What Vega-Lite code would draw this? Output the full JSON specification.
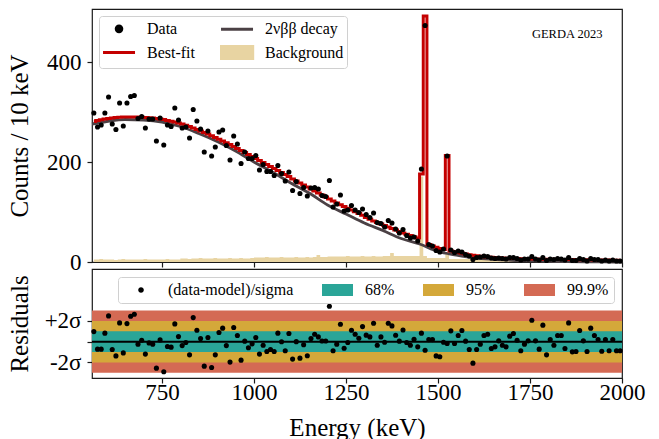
{
  "$schema": "https://vega.github.io/schema/vega-lite/v6.json",
  "padding": {"left": 6, "top": 8, "right": 5, "bottom": 0},
  "spacing": 7,
  "bounds": "flush",
  "config": {
    "font": "Liberation Serif",
    "view": {"stroke": "#1a1a1a", "strokeWidth": 1.2},
    "axis": {"domain": false, "grid": false, "ticks": true, "tickColor": "#1a1a1a", "tickSize": 5, "tickWidth": 1.2, "labelFontSize": 23, "labelColor": "#000000", "labelFont": "Liberation Serif", "titleFont": "Liberation Serif", "titleFontSize": 25, "titleFontWeight": "normal", "titleColor": "#000000", "labelPadding": 6},
    "legend": {"labelFont": "Liberation Serif", "labelFontSize": 16, "labelColor": "#000000", "fillColor": "#ffffff", "strokeColor": "#d0d0d0", "cornerRadius": 3}
  },
  "resolve": {"scale": {"color": "independent", "x": "independent", "y": "independent"}, "legend": {"color": "independent"}},
  "datasets": {
    "bins": [
      {"E":565,"d":298,"m":281,"b":5,"r":0.97},{"E":575,"d":270,"m":283,"b":5,"r":-0.72},{"E":585,"d":274,"m":284.5,"b":6,"r":-0.72},{"E":595,"d":298,"m":286,"b":5,"r":0.82},{"E":605,"d":330,"m":287,"b":5,"r":2.48},{"E":615,"d":276,"m":288,"b":5,"r":-0.75},{"E":625,"d":265,"m":289,"b":4,"r":-1.37},{"E":635,"d":318,"m":289.5,"b":5,"r":1.81},{"E":645,"d":272,"m":290,"b":6,"r":-1.08},{"E":655,"d":318,"m":290,"b":5,"r":1.74},
      {"E":665,"d":331,"m":290,"b":5,"r":2.45},{"E":675,"d":333,"m":290,"b":5,"r":2.64},{"E":685,"d":287,"m":290,"b":5,"r":-0.24},{"E":695,"d":291,"m":289.5,"b":5,"r":0.14},{"E":705,"d":268,"m":289,"b":6,"r":-1.2},{"E":715,"d":286,"m":288.5,"b":5,"r":-0.12},{"E":725,"d":286,"m":288,"b":5,"r":-0.24},{"E":735,"d":242,"m":287,"b":5,"r":-2.55},{"E":745,"d":288,"m":286,"b":5,"r":0.17},{"E":755,"d":234,"m":285,"b":5,"r":-2.9},
      {"E":765,"d":274,"m":283,"b":6,"r":-0.47},{"E":775,"d":271,"m":281.5,"b":5,"r":-0.53},{"E":785,"d":308,"m":280,"b":5,"r":1.71},{"E":795,"d":284,"m":278,"b":5,"r":0.49},{"E":805,"d":268,"m":276,"b":7,"r":-0.38},{"E":815,"d":270,"m":273.5,"b":7,"r":-0.08},{"E":825,"d":248,"m":271,"b":6,"r":-1.27},{"E":835,"d":305,"m":268,"b":7,"r":2.32},{"E":845,"d":282,"m":265,"b":7,"r":1.1},{"E":855,"d":266,"m":262,"b":8,"r":0.3},
      {"E":865,"d":220,"m":259,"b":7,"r":-2.36},{"E":875,"d":262,"m":256,"b":7,"r":0.4},{"E":885,"d":212,"m":252.5,"b":7,"r":-2.49},{"E":895,"d":230,"m":249,"b":8,"r":-1.27},{"E":905,"d":260,"m":245.5,"b":7,"r":0.88},{"E":915,"d":264,"m":242,"b":7,"r":1.3},{"E":925,"d":233,"m":238.5,"b":7,"r":-0.38},{"E":935,"d":204,"m":235,"b":8,"r":-1.97},{"E":945,"d":252,"m":231,"b":7,"r":1.36},{"E":955,"d":236,"m":227,"b":7,"r":0.59},
      {"E":965,"d":197,"m":223,"b":8,"r":-1.78},{"E":975,"d":220,"m":219,"b":7,"r":0.05},{"E":985,"d":207,"m":215,"b":7,"r":-0.59},{"E":995,"d":207,"m":211,"b":8,"r":-0.21},{"E":1005,"d":213,"m":207,"b":9,"r":0.4},{"E":1015,"d":184,"m":203,"b":9,"r":-1.2},{"E":1025,"d":195,"m":199,"b":9,"r":-0.34},{"E":1035,"d":181,"m":195,"b":10,"r":-0.95},{"E":1045,"d":181,"m":191,"b":9,"r":-0.75},{"E":1055,"d":173,"m":187,"b":9,"r":-0.95},
      {"E":1065,"d":193,"m":183,"b":9,"r":0.82},{"E":1075,"d":177,"m":179,"b":10,"r":-0.01},{"E":1085,"d":162,"m":175,"b":9,"r":-0.88},{"E":1095,"d":180,"m":171,"b":9,"r":0.79},{"E":1105,"d":143,"m":166,"b":9,"r":-1.68},{"E":1115,"d":161,"m":162,"b":10,"r":0},{"E":1125,"d":137,"m":158,"b":9,"r":-1.59},{"E":1135,"d":149,"m":154,"b":9,"r":-0.3},{"E":1145,"d":132,"m":150,"b":10,"r":-1.36},{"E":1155,"d":148,"m":146,"b":9,"r":0.3},
      {"E":1165,"d":149,"m":142,"b":10,"r":0.72},{"E":1175,"d":146,"m":138,"b":14,"r":0.46},{"E":1185,"d":133,"m":134,"b":10,"r":0.07},{"E":1195,"d":131,"m":130,"b":10,"r":0.07},{"E":1205,"d":163,"m":126,"b":11,"r":3.41},{"E":1215,"d":110,"m":122,"b":11,"r":-0.88},{"E":1225,"d":116,"m":118,"b":11,"r":-0.24},{"E":1235,"d":134,"m":114.5,"b":11,"r":1.68},{"E":1245,"d":102,"m":111,"b":11,"r":-0.63},{"E":1255,"d":104,"m":107.5,"b":12,"r":-0.08},
      {"E":1265,"d":113,"m":104,"b":11,"r":1.1},{"E":1275,"d":104,"m":100.5,"b":11,"r":0.72},{"E":1285,"d":99,"m":97,"b":11,"r":0.33},{"E":1295,"d":106,"m":93.5,"b":12,"r":1.45},{"E":1305,"d":95,"m":89,"b":11,"r":0.63},{"E":1315,"d":89,"m":85.5,"b":11,"r":0.46},{"E":1325,"d":98,"m":82,"b":12,"r":1.78},{"E":1335,"d":79,"m":79,"b":11,"r":-0.34},{"E":1345,"d":77,"m":76,"b":11,"r":0.46},{"E":1355,"d":70,"m":73,"b":12,"r":-0.05},
      {"E":1365,"d":83,"m":70,"b":12,"r":1.78},{"E":1375,"d":78,"m":67,"b":18,"r":1.52},{"E":1385,"d":66,"m":64,"b":12,"r":0.62},{"E":1395,"d":58,"m":61,"b":12,"r":0.05},{"E":1405,"d":65,"m":58,"b":12,"r":1.13},{"E":1415,"d":53,"m":55.5,"b":12,"r":-0.08},{"E":1425,"d":48,"m":53,"b":12,"r":-0.34},{"E":1435,"d":50,"m":50.5,"b":12,"r":0.24},{"E":1445,"d":42,"m":48,"b":12,"r":-0.5},{"E":1455,"d":186,"m":176,"b":171,"r":0.82},
      {"E":1465,"d":473,"m":492,"b":12,"r":-0.82},{"E":1475,"d":35,"m":35,"b":8,"r":0.2},{"E":1485,"d":32,"m":32,"b":8,"r":0.2},{"E":1495,"d":23,"m":29.5,"b":8,"r":-1.37},{"E":1505,"d":20,"m":27,"b":8,"r":-1.46},{"E":1515,"d":26,"m":25,"b":8,"r":-0.05},{"E":1525,"d":212,"m":213,"b":20,"r":-0.18},{"E":1535,"d":24,"m":22,"b":6,"r":1.04},{"E":1545,"d":19,"m":20.5,"b":6,"r":-0.18},{"E":1555,"d":22,"m":19,"b":6,"r":0.6},
      {"E":1565,"d":20,"m":17.5,"b":6,"r":1.07},{"E":1575,"d":15,"m":16,"b":6,"r":0.05},{"E":1585,"d":12,"m":14.5,"b":6,"r":-0.75},{"E":1595,"d":5,"m":13.5,"b":6,"r":-2.07},{"E":1605,"d":9,"m":12.5,"b":6,"r":-0.75},{"E":1615,"d":10,"m":11.5,"b":6,"r":-0.24},{"E":1625,"d":12,"m":10.5,"b":6,"r":0.59},{"E":1635,"d":11,"m":10,"b":6,"r":0.72},{"E":1645,"d":8,"m":9.5,"b":6,"r":-0.66},{"E":1655,"d":7,"m":9,"b":5,"r":-0.5},
      {"E":1665,"d":8,"m":8.5,"b":5,"r":0.08},{"E":1675,"d":7,"m":8,"b":5,"r":-0.34},{"E":1685,"d":6,"m":7.5,"b":5,"r":-0.5},{"E":1695,"d":9,"m":7.2,"b":5,"r":0.53},{"E":1705,"d":9,"m":7,"b":5,"r":0.79},{"E":1715,"d":7,"m":6.8,"b":5,"r":0.14},{"E":1725,"d":4,"m":6.6,"b":5,"r":-0.88},{"E":1735,"d":6,"m":6.4,"b":5,"r":-0.24},{"E":1745,"d":6,"m":6.2,"b":5,"r":0.08},{"E":1755,"d":11,"m":6,"b":5,"r":2.07},
      {"E":1765,"d":6,"m":5.8,"b":5,"r":0.08},{"E":1775,"d":4,"m":5.7,"b":5,"r":-0.72},{"E":1785,"d":9,"m":5.6,"b":5,"r":1.59},{"E":1795,"d":3,"m":5.5,"b":5,"r":-1.27},{"E":1805,"d":6,"m":5.4,"b":4,"r":0.21},{"E":1815,"d":5,"m":5.3,"b":4,"r":-0.34},{"E":1825,"d":7,"m":5.2,"b":4,"r":0.59},{"E":1835,"d":6,"m":5.1,"b":4,"r":0.59},{"E":1845,"d":4,"m":5,"b":4,"r":-0.66},{"E":1855,"d":9,"m":4.9,"b":4,"r":1.81},
      {"E":1865,"d":3,"m":4.8,"b":4,"r":-0.98},{"E":1875,"d":3,"m":4.7,"b":4,"r":-0.95},{"E":1885,"d":7,"m":4.6,"b":4,"r":1.07},{"E":1895,"d":5,"m":4.5,"b":4,"r":0.08},{"E":1905,"d":2,"m":4.4,"b":4,"r":-0.95},{"E":1915,"d":7,"m":4.3,"b":4,"r":1.3},{"E":1925,"d":5,"m":4.2,"b":4,"r":0.59},{"E":1935,"d":5,"m":4.1,"b":4,"r":0.21},{"E":1945,"d":2,"m":4,"b":4,"r":-0.92},{"E":1955,"d":4,"m":3.9,"b":4,"r":0.21},
      {"E":1965,"d":2,"m":3.8,"b":4,"r":-0.88},{"E":1975,"d":4,"m":3.7,"b":4,"r":0.21},{"E":1985,"d":2,"m":3.6,"b":3,"r":-0.88},{"E":1995,"d":2,"m":3.5,"b":3,"r":-0.88}
    ],
    "gray": [
      {"E":560,"g":276},{"E":600,"g":281},{"E":650,"g":285},{"E":700,"g":284},{"E":750,"g":280},{"E":800,"g":271},{"E":850,"g":257},{"E":900,"g":241},{"E":950,"g":222},{"E":1000,"g":200},
      {"E":1050,"g":180},{"E":1100,"g":158},{"E":1150,"g":138},{"E":1200,"g":114},{"E":1250,"g":96},{"E":1300,"g":78},{"E":1350,"g":63},{"E":1400,"g":47},{"E":1450,"g":36},{"E":1500,"g":21},
      {"E":1550,"g":14},{"E":1600,"g":8.5},{"E":1650,"g":5.5},{"E":1700,"g":3.5},{"E":1750,"g":2.2},{"E":1800,"g":1.3},{"E":1850,"g":0.7},{"E":1900,"g":0.3},{"E":1950,"g":0.1},{"E":2000,"g":0}
    ],
    "bands": [
      {"band":"99.9%","lo":-3,"hi":3},{"band":"95%","lo":-2,"hi":2},{"band":"68%","lo":-1,"hi":1}
    ],
    "txt": [{"E":1851,"c":448,"t":"GERDA 2023"}]
  },
  "vconcat": [
    {
      "width": 530,
      "height": 253,
      "layer": [
        {
          "data": {"name": "bins"},
          "mark": {"type": "area", "interpolate": "step", "opacity": 1},
          "encoding": {
            "x": {"field": "E", "type": "quantitative", "scale": {"domain": [560, 2000], "nice": false, "zero": false}, "axis": {"values": [750, 1000, 1250, 1500, 1750, 2000], "labels": false, "title": null}},
            "y": {"field": "b", "type": "quantitative", "scale": {"domain": [0, 506], "nice": false}, "axis": {"values": [0, 200, 400], "title": "Counts / 10 keV", "titleX": -60}},
            "color": {
              "datum": "Background",
              "scale": {"domain": ["Data", "2νββ decay", "Best-fit", "Background"], "range": ["#000000", "#4b4145", "#c40000", "#e8d4a2"]},
              "legend": {
                "title": null, "orient": "top-left", "offset": 7, "columns": 2, "direction": "horizontal",
                "symbolSize": 256, "symbolStrokeWidth": 3, "labelOffset": 26, "columnPadding": 20, "rowPadding": 2, "padding": 3,
                "encode": {"symbols": {"update": {
                  "shape": {"signal": "datum.value === 'Data' ? 'M0.59,0A0.35,0.35 0 1,0 1.29,0A0.35,0.35 0 1,0 0.59,0Z' : datum.value === 'Background' ? 'M-1,-0.75H2.9V0.75H-1Z' : 'M-1.06,0H2.94'"},
                  "size": {"value": 256},
                  "fill": {"signal": "datum.value === 'Data' ? '#000000' : datum.value === 'Background' ? '#e8d4a2' : 'transparent'"},
                  "stroke": {"signal": "datum.value === 'Best-fit' ? '#c40000' : datum.value === '2νββ decay' ? '#4b4145' : 'transparent'"},
                  "strokeWidth": {"value": 3},
                  "opacity": {"value": 1}
                }}}
              }
            }
          }
        },
        {
          "data": {"name": "gray"},
          "mark": {"type": "line", "interpolate": "monotone", "strokeWidth": 2.8},
          "encoding": {
            "x": {"field": "E", "type": "quantitative"},
            "y": {"field": "g", "type": "quantitative"},
            "color": {
              "datum": "2νββ decay",
              "legend": {
                "title": null, "orient": "top-left", "offset": 7, "columns": 2, "direction": "horizontal",
                "symbolSize": 256, "symbolStrokeWidth": 3, "labelOffset": 26, "columnPadding": 20, "rowPadding": 2, "padding": 3,
                "encode": {"symbols": {"update": {
                  "shape": {"signal": "datum.value === 'Data' ? 'M0.59,0A0.35,0.35 0 1,0 1.29,0A0.35,0.35 0 1,0 0.59,0Z' : datum.value === 'Background' ? 'M-1,-0.75H2.9V0.75H-1Z' : 'M-1.06,0H2.94'"},
                  "size": {"value": 256},
                  "fill": {"signal": "datum.value === 'Data' ? '#000000' : datum.value === 'Background' ? '#e8d4a2' : 'transparent'"},
                  "stroke": {"signal": "datum.value === 'Best-fit' ? '#c40000' : datum.value === '2νββ decay' ? '#4b4145' : 'transparent'"},
                  "strokeWidth": {"value": 3},
                  "opacity": {"value": 1}
                }}}
              }
            }
          }
        },
        {
          "data": {"name": "bins"},
          "mark": {"type": "line", "interpolate": "step", "strokeWidth": 3},
          "encoding": {
            "x": {"field": "E", "type": "quantitative"},
            "y": {"field": "m", "type": "quantitative"},
            "color": {
              "datum": "Best-fit",
              "legend": {
                "title": null, "orient": "top-left", "offset": 7, "columns": 2, "direction": "horizontal",
                "symbolSize": 256, "symbolStrokeWidth": 3, "labelOffset": 26, "columnPadding": 20, "rowPadding": 2, "padding": 3,
                "encode": {"symbols": {"update": {
                  "shape": {"signal": "datum.value === 'Data' ? 'M0.59,0A0.35,0.35 0 1,0 1.29,0A0.35,0.35 0 1,0 0.59,0Z' : datum.value === 'Background' ? 'M-1,-0.75H2.9V0.75H-1Z' : 'M-1.06,0H2.94'"},
                  "size": {"value": 256},
                  "fill": {"signal": "datum.value === 'Data' ? '#000000' : datum.value === 'Background' ? '#e8d4a2' : 'transparent'"},
                  "stroke": {"signal": "datum.value === 'Best-fit' ? '#c40000' : datum.value === '2νββ decay' ? '#4b4145' : 'transparent'"},
                  "strokeWidth": {"value": 3},
                  "opacity": {"value": 1}
                }}}
              }
            }
          }
        },
        {
          "data": {"name": "bins"},
          "mark": {"type": "point", "filled": true, "size": 26, "opacity": 1},
          "encoding": {
            "x": {"field": "E", "type": "quantitative"},
            "y": {"field": "d", "type": "quantitative"},
            "color": {
              "datum": "Data",
              "legend": {
                "title": null, "orient": "top-left", "offset": 7, "columns": 2, "direction": "horizontal",
                "symbolSize": 256, "symbolStrokeWidth": 3, "labelOffset": 26, "columnPadding": 20, "rowPadding": 2, "padding": 3,
                "encode": {"symbols": {"update": {
                  "shape": {"signal": "datum.value === 'Data' ? 'M0.59,0A0.35,0.35 0 1,0 1.29,0A0.35,0.35 0 1,0 0.59,0Z' : datum.value === 'Background' ? 'M-1,-0.75H2.9V0.75H-1Z' : 'M-1.06,0H2.94'"},
                  "size": {"value": 256},
                  "fill": {"signal": "datum.value === 'Data' ? '#000000' : datum.value === 'Background' ? '#e8d4a2' : 'transparent'"},
                  "stroke": {"signal": "datum.value === 'Best-fit' ? '#c40000' : datum.value === '2νββ decay' ? '#4b4145' : 'transparent'"},
                  "strokeWidth": {"value": 3},
                  "opacity": {"value": 1}
                }}}
              }
            }
          }
        },
        {
          "data": {"name": "txt"},
          "mark": {"type": "text", "fontSize": 12.5, "align": "center", "baseline": "alphabetic", "color": "#000000", "font": "Liberation Serif"},
          "encoding": {
            "x": {"field": "E", "type": "quantitative"},
            "y": {"field": "c", "type": "quantitative"},
            "text": {"field": "t"}
          }
        }
      ]
    },
    {
      "width": 530,
      "height": 109,
      "layer": [
        {
          "data": {"name": "bands"},
          "mark": {"type": "rect"},
          "encoding": {
            "x": {"datum": 560, "type": "quantitative", "scale": {"domain": [560, 2000], "nice": false, "zero": false}, "axis": {"values": [750, 1000, 1250, 1500, 1750, 2000], "format": "d", "labelFlush": false, "labelPadding": -2, "title": "Energy (keV)", "titlePadding": 11}},
            "x2": {"datum": 2000},
            "y": {"field": "lo", "type": "quantitative", "scale": {"domain": [-3.5, 7.0], "nice": false, "zero": false}, "axis": {"values": [-2, 0, 2], "labelExpr": "datum.value > 0 ? '+2σ' : datum.value < 0 ? '-2σ' : '0'", "title": "Residuals", "titleX": -60}},
            "y2": {"field": "hi"},
            "color": {
              "field": "band", "type": "nominal",
              "scale": {"domain": ["(data-model)/sigma", "68%", "95%", "99.9%"], "range": ["#000000", "#2aa598", "#d4a83a", "#d46a54"]},
              "legend": {
                "title": null, "orient": "top-right", "offset": 8, "columns": 4, "direction": "horizontal",
                "symbolSize": 144, "symbolStrokeWidth": 0, "labelOffset": 29, "columnPadding": 26, "padding": 5,
                "encode": {"symbols": {"update": {
                  "shape": {"signal": "datum.value === '(data-model)/sigma' ? 'M1.2,0A0.47,0.47 0 1,0 2.14,0A0.47,0.47 0 1,0 1.2,0Z' : 'M-1,-1H4.17V1H-1Z'"},
                  "size": {"value": 144},
                  "fill": {"signal": "datum.value === '(data-model)/sigma' ? '#000000' : datum.value === '68%' ? '#2aa598' : datum.value === '95%' ? '#d4a83a' : '#d46a54'"},
                  "stroke": {"value": "transparent"},
                  "opacity": {"value": 1}
                }}}
              }
            }
          }
        },
        {
          "data": {"values": [{}]},
          "mark": {"type": "rule", "color": "#000000", "strokeWidth": 2},
          "encoding": {"y": {"datum": 0, "type": "quantitative"}}
        },
        {
          "data": {"name": "bins"},
          "mark": {"type": "point", "filled": true, "size": 26, "opacity": 1},
          "encoding": {
            "x": {"field": "E", "type": "quantitative"},
            "y": {"field": "r", "type": "quantitative"},
            "color": {"datum": "(data-model)/sigma"}
          }
        }
      ]
    }
  ]
}
